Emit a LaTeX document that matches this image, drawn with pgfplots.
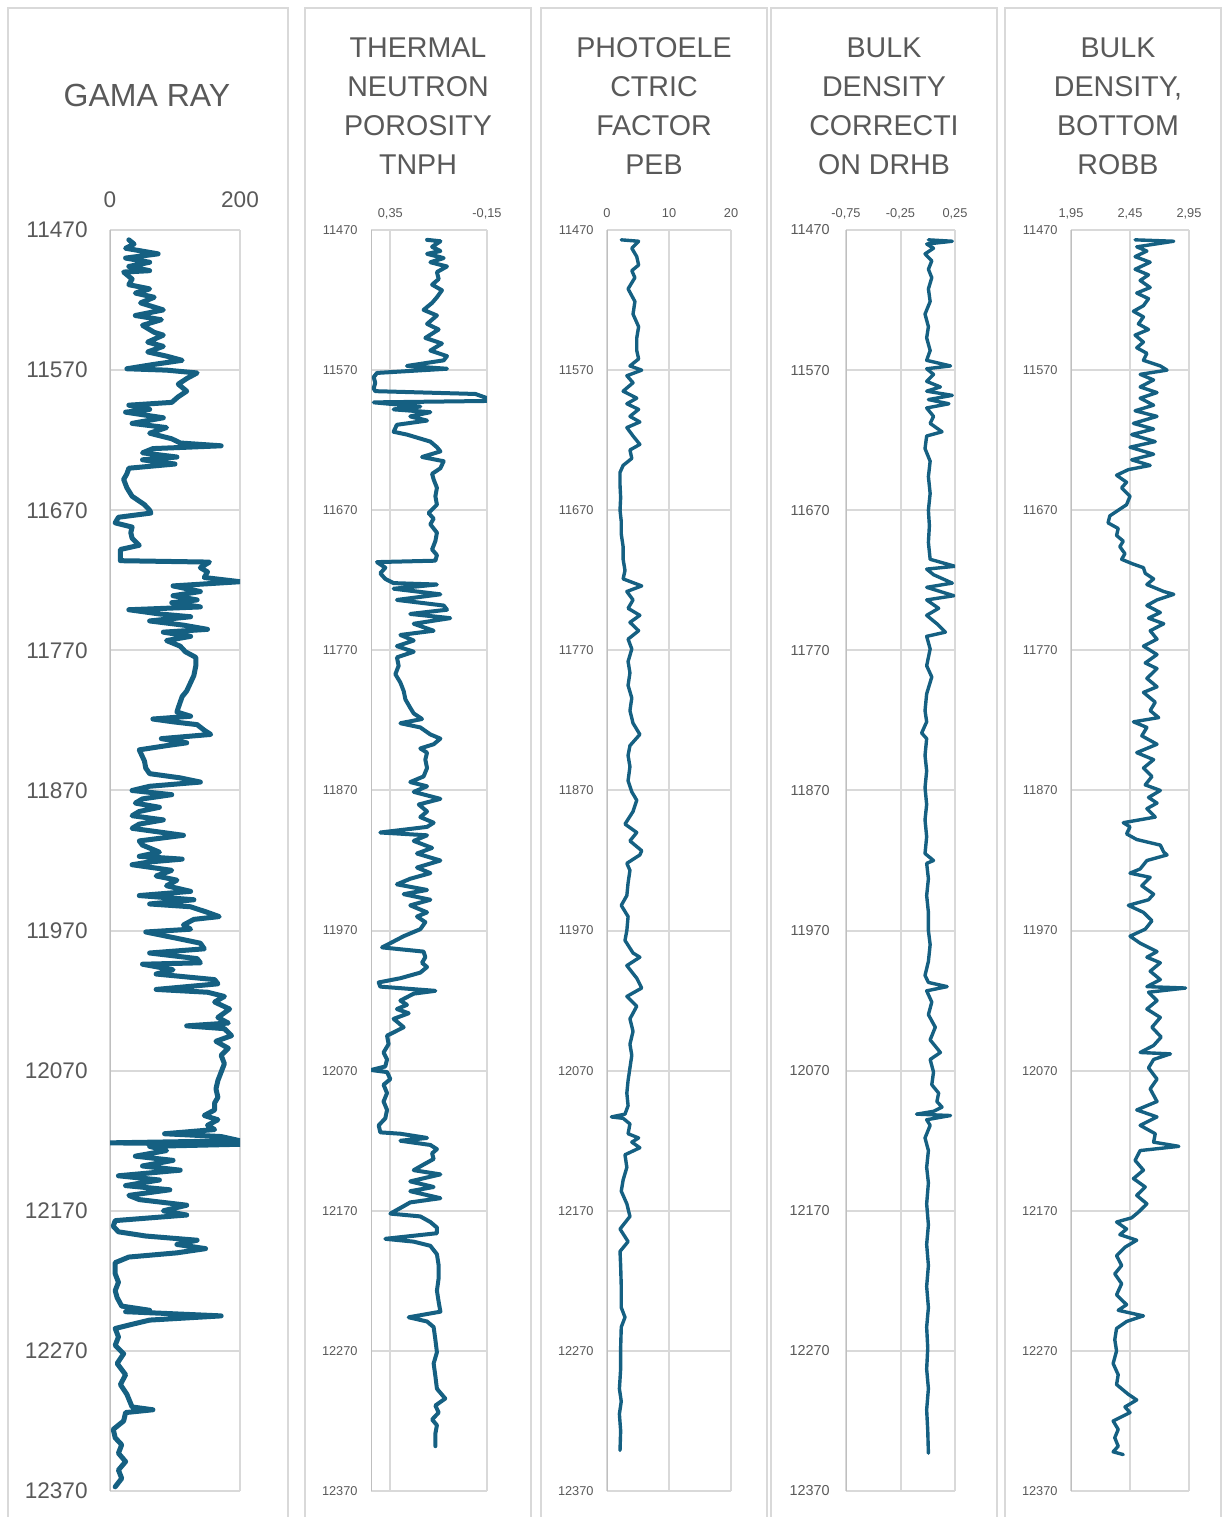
\documentclass[border=0pt]{standalone}
\usepackage{fontspec}
\setmainfont{Liberation Sans}
\usepackage{pgfplots}
\pgfplotsset{compat=1.18}
\definecolor{logblue}{HTML}{156082}
\definecolor{gridgray}{HTML}{D9D9D9}
\definecolor{axgray}{HTML}{BFBFBF}
\definecolor{txtgray}{HTML}{595959}
\pgfplotsset{
 logaxis/.style={
  scale only axis, anchor=center,
  y dir=reverse, ymin=11470, ymax=12370,
  ytick={11470,11570,11670,11770,11870,11970,12070,12170,12270,12370},
  yticklabels={11470,11570,11670,11770,11870,11970,12070,12170,12270,12370},
  scaled y ticks=false, scaled x ticks=false,
  axis line style={draw=none},
  grid=major, major grid style={draw=gridgray, line width=1pt},
  major tick length=0pt,
  xticklabel pos=right,
  ticklabel style={text=txtgray, inner sep=0pt},
  xticklabel style={anchor=base},
 },
 curve/.style={logblue, line join=round, line cap=round, no markers, line width=#1},
}
\begin{document}
\begin{tikzpicture}
\path[use as bounding box] (0,0) rectangle (614.5pt,-758.5pt);
% panel frames
\draw[gridgray, line width=1pt] (4pt,-4pt) rectangle (144pt,-764pt);
\draw[gridgray, line width=1pt] (152.5pt,-4pt) rectangle (265.5pt,-764pt);
\draw[gridgray, line width=1pt] (270.5pt,-4pt) rectangle (383.5pt,-764pt);
\draw[gridgray, line width=1pt] (385.5pt,-4pt) rectangle (498.5pt,-764pt);
\draw[gridgray, line width=1pt] (502.5pt,-4pt) rectangle (610.5pt,-764pt);
% titles
\node[text=txtgray, inner sep=0pt, font=\fontsize{16}{19.5}\selectfont] at (73.5pt,-47.5pt) {GAMA RAY};
\node[text=txtgray, inner sep=0pt, align=center, font=\fontsize{14.3}{19.5}\selectfont] at (209pt,-53.25pt) {THERMAL\\NEUTRON\\POROSITY\\TNPH};
\node[text=txtgray, inner sep=0pt, align=center, font=\fontsize{14.3}{19.5}\selectfont] at (327pt,-53.25pt) {PHOTOELE\\CTRIC\\FACTOR\\PEB};
\node[text=txtgray, inner sep=0pt, align=center, font=\fontsize{14.3}{19.5}\selectfont] at (442pt,-53.25pt) {BULK\\DENSITY\\CORRECTI\\ON DRHB};
\node[text=txtgray, inner sep=0pt, align=center, font=\fontsize{14.3}{19.5}\selectfont] at (559pt,-53.25pt) {BULK\\DENSITY,\\BOTTOM\\ROBB};

% ---------- Panel 1: Gamma ray
\begin{axis}[logaxis, at={(87.5pt,-430.25pt)}, width=65pt, height=630.5pt,
  xmin=0, xmax=200, xtick={0,200}, xticklabels={0,200},
  ticklabel style={font=\fontsize{11.3}{13}\selectfont},
  yticklabel style={xshift=-11pt}, xticklabel style={yshift=11.25pt}]
\draw[axgray, line width=1pt] (axis description cs:0,0) -- (axis description cs:0,1);
\addplot[curve=2.5pt] table {
29 11477
37 11480
24 11483
74 11487
24 11490
61 11493
29 11496
61 11499
21 11500
34 11505
29 11509
61 11512
39 11515
68 11518
47 11522
82 11527
39 11531
79 11534
50 11538
68 11543
82 11545
58 11550
82 11553
58 11557
87 11560
111 11563
66 11566
26 11569
87 11570
134 11572
118 11576
105 11580
118 11585
105 11589
95 11593
29 11595
61 11598
24 11600
82 11604
34 11608
87 11611
61 11615
95 11619
108 11622
171 11624
66 11626
50 11629
103 11632
50 11634
100 11637
29 11640
26 11644
21 11648
26 11654
34 11660
53 11666
61 11670
63 11672
13 11675
8 11679
34 11682
32 11686
34 11690
45 11695
16 11698
16 11706
153 11707
139 11711
150 11714
145 11718
200 11721
97 11724
139 11728
97 11731
134 11734
95 11736
139 11739
29 11741
76 11744
124 11746
61 11749
113 11752
150 11755
82 11757
124 11760
87 11763
108 11767
116 11771
132 11775
132 11781
129 11788
124 11793
118 11799
111 11803
108 11807
105 11811
103 11814
124 11817
66 11819
97 11821
134 11823
145 11827
155 11830
79 11833
118 11836
87 11838
45 11841
50 11846
53 11849
55 11854
61 11858
108 11861
139 11864
61 11867
34 11870
95 11873
50 11876
39 11879
76 11882
45 11885
34 11888
82 11891
45 11894
34 11897
113 11902
45 11906
50 11909
76 11914
45 11917
111 11919
61 11921
34 11923
95 11927
71 11931
103 11934
87 11938
124 11942
45 11945
129 11948
61 11951
124 11953
150 11957
168 11960
129 11962
113 11966
124 11969
55 11971
108 11976
139 11979
145 11983
61 11986
134 11990
139 11993
50 11994
97 11998
71 12001
161 12005
166 12008
71 12012
150 12014
176 12017
161 12021
184 12026
166 12032
182 12036
118 12038
176 12040
187 12045
163 12049
182 12054
171 12059
176 12065
171 12071
166 12077
163 12083
166 12089
161 12093
161 12098
145 12102
166 12105
150 12109
161 12112
84 12115
171 12117
200 12120
0 12121.5
200 12122.5
61 12124
87 12127
39 12131
97 12134
50 12138
108 12141
13 12145
76 12148
24 12152
92 12155
29 12159
45 12162
118 12166
82 12170
118 12173
8 12177
5 12181
13 12185
55 12188
134 12191
103 12194
147 12197
103 12200
29 12203
8 12207
8 12215
13 12221
8 12227
11 12232
18 12238
61 12241
24 12242
171 12245
61 12248
34 12251
8 12254
13 12260
8 12266
21 12272
11 12279
24 12287
16 12294
26 12301
34 12310
66 12312
24 12314
21 12320
5 12326
8 12332
18 12337
13 12343
24 12349
13 12355
18 12361
8 12367
};
\end{axis}

% ---------- Panel 2: TNPH
\begin{axis}[logaxis, at={(214.5pt,-430.25pt)}, width=58pt, height=630.5pt,
  x dir=reverse, xmin=-0.15, xmax=0.45, xtick={-0.15,0.35}, xticklabels={{-0,15},{0,35}},
  ticklabel style={font=\fontsize{6.4}{7.5}\selectfont},
  yticklabel style={xshift=-6.5pt}, xticklabel style={yshift=6.5pt}]
\draw[axgray, line width=1pt] (axis description cs:0,0) -- (axis description cs:0,1);
\addplot[curve=2pt] table {
0.160 11477
0.091 11478
0.134 11482
0.091 11485
0.160 11487
0.074 11490
0.143 11493
0.057 11496
0.109 11500
0.100 11505
0.134 11509
0.083 11513
0.109 11518
0.134 11522
0.178 11527
0.109 11531
0.160 11537
0.100 11541
0.169 11547
0.083 11551
0.143 11556
0.057 11560
0.074 11563
0.264 11567
0.057 11569
0.419 11572
0.436 11575
0.428 11579
0.436 11583
0.428 11585
-0.09 11587
-0.15 11590
-0.15 11592
0.436 11593
0.195 11596
0.333 11598
0.143 11600
0.247 11603
0.160 11606
0.316 11609
0.333 11614
0.264 11616
0.143 11621
0.109 11625
0.091 11628
0.186 11632
0.074 11635
0.091 11640
0.134 11644
0.126 11648
0.109 11654
0.117 11660
0.109 11666
0.152 11672
0.126 11676
0.143 11680
0.109 11686
0.117 11692
0.134 11698
0.109 11702
0.117 11706
0.419 11707
0.376 11711
0.402 11715
0.376 11719
0.333 11722
0.109 11723
0.333 11726
0.091 11730
0.316 11734
0.074 11738
0.057 11741
0.247 11744
0.040 11747
0.229 11751
0.126 11756
0.298 11759
0.229 11763
0.316 11767
0.229 11771
0.316 11775
0.307 11781
0.324 11787
0.298 11793
0.281 11799
0.272 11805
0.247 11811
0.229 11815
0.186 11819
0.298 11822
0.195 11825
0.143 11830
0.091 11833
0.126 11837
0.195 11840
0.160 11843
0.169 11848
0.160 11854
0.178 11860
0.247 11864
0.160 11867
0.229 11871
0.091 11876
0.203 11880
0.160 11885
0.195 11889
0.126 11893
0.160 11896
0.402 11900
0.160 11902
0.229 11906
0.134 11911
0.212 11915
0.091 11920
0.212 11925
0.143 11929
0.247 11933
0.316 11937
0.160 11941
0.281 11944
0.143 11948
0.247 11952
0.160 11957
0.212 11960
0.169 11964
0.195 11969
0.281 11974
0.350 11979
0.393 11982
0.178 11985
0.169 11989
0.186 11993
0.160 11996
0.195 12000
0.298 12004
0.410 12007
0.402 12010
0.117 12013
0.229 12015
0.298 12020
0.264 12023
0.316 12026
0.255 12029
0.333 12033
0.281 12039
0.367 12045
0.359 12051
0.385 12057
0.367 12062
0.376 12067
0.45 12069.5
0.367 12071
0.350 12076
0.385 12080
0.367 12086
0.385 12092
0.367 12098
0.376 12104
0.410 12109
0.402 12114
0.298 12115
0.160 12118
0.298 12120
0.143 12123
0.109 12126
0.134 12129
0.126 12133
0.178 12137
0.229 12141
0.091 12144
0.247 12149
0.126 12153
0.247 12156
0.091 12161
0.247 12164
0.298 12168
0.350 12172
0.195 12174
0.143 12178
0.109 12182
0.109 12186
0.376 12190
0.229 12192
0.143 12195
0.109 12201
0.100 12209
0.100 12218
0.109 12227
0.100 12235
0.091 12242
0.255 12246
0.160 12249
0.126 12253
0.117 12262
0.109 12271
0.126 12279
0.117 12288
0.109 12297
0.066 12304
0.117 12309
0.100 12314
0.134 12319
0.109 12323
0.117 12329
0.117 12338
};
\end{axis}

% ---------- Panel 3: PEB
\begin{axis}[logaxis, at={(334.5pt,-430.25pt)}, width=62pt, height=630.5pt,
  xmin=0, xmax=20, xtick={0,10,20}, xticklabels={0,10,20},
  ticklabel style={font=\fontsize{6.4}{7.5}\selectfont},
  yticklabel style={xshift=-6.5pt}, xticklabel style={yshift=6.5pt}]
\draw[axgray, line width=1pt] (axis description cs:0,0) -- (axis description cs:0,1);
\addplot[curve=1.7pt] table {
2.3 11477
5.1 11478
4.0 11483
4.8 11489
5.1 11495
4.0 11499
4.5 11504
3.4 11512
4.5 11521
4.2 11530
5.1 11539
4.8 11547
4.8 11556
5.1 11562
3.7 11567
5.6 11570
3.2 11574
4.2 11579
2.6 11585
4.8 11590
3.2 11594
5.1 11598
3.7 11603
5.3 11607
3.2 11611
4.2 11617
5.3 11623
3.7 11627
4.0 11633
2.6 11638
2.1 11643
2.1 11652
2.2 11661
2.1 11670
2.3 11678
2.3 11687
2.6 11696
2.6 11705
2.9 11713
2.6 11719
5.6 11724
3.2 11728
4.2 11734
3.4 11740
5.3 11745
3.7 11750
5.1 11756
3.4 11762
4.0 11769
3.4 11778
3.7 11786
3.4 11795
4.0 11804
3.7 11813
4.2 11822
5.3 11830
3.7 11838
3.4 11845
3.7 11853
3.4 11863
4.0 11871
4.8 11877
4.2 11885
2.9 11894
4.8 11900
3.7 11906
5.6 11913
5.3 11916
3.2 11922
3.7 11927
3.4 11936
3.2 11945
2.3 11952
3.4 11960
3.2 11970
2.9 11977
4.2 11986
5.3 11989
3.2 11995
4.8 12004
5.6 12011
3.2 12017
4.8 12024
3.7 12033
4.2 12042
3.7 12051
4.0 12059
3.7 12068
3.4 12077
3.2 12086
3.4 12095
2.9 12101
0.7 12103
2.6 12104
3.7 12108
3.4 12115
5.1 12118
4.0 12121
5.3 12125
2.9 12130
3.2 12139
2.6 12148
2.3 12156
3.2 12165
3.7 12174
2.1 12183
3.4 12192
2.1 12199
2.2 12209
2.3 12224
2.3 12239
2.9 12246
2.3 12253
2.2 12268
2.2 12283
2.0 12297
2.3 12306
2.0 12315
2.2 12327
2.1 12341
};
\end{axis}

% ---------- Panel 4: DRHB
\begin{axis}[logaxis, at={(450.25pt,-430.25pt)}, width=54.5pt, height=630.5pt,
  xmin=-0.75, xmax=0.25, xtick={-0.75,-0.25,0.25}, xticklabels={{-0,75},{-0,25},{0,25}},
  xticklabel style={font=\fontsize{6.4}{7.5}\selectfont, yshift=6.5pt},
  yticklabel style={font=\fontsize{7.2}{8.5}\selectfont, xshift=-8pt}]
\draw[axgray, line width=1pt] (axis description cs:0,0) -- (axis description cs:0,1);
\addplot[curve=1.7pt] table {
0.006 11477
0.225 11478
-0.010 11480
0.053 11483
-0.025 11487
0.037 11492
0.006 11498
0.037 11504
0.006 11512
0.022 11521
-0.025 11530
0.006 11539
-0.010 11547
0.022 11556
-0.010 11563
0.209 11567
-0.010 11569
0.053 11573
-0.010 11578
0.116 11582
-0.010 11585
0.225 11588
0.006 11591
0.194 11594
-0.010 11597
0.053 11603
0.022 11608
0.131 11614
-0.010 11617
-0.025 11626
0.022 11635
0.006 11646
0.022 11658
0.006 11670
0.015 11681
0.006 11693
0.022 11705
0.25 11710
-0.010 11712
0.053 11716
0.225 11722
-0.010 11725
0.24 11731
-0.010 11734
0.100 11740
-0.010 11745
0.084 11751
0.162 11757
-0.010 11760
0.022 11769
-0.010 11781
0.037 11789
-0.010 11801
-0.025 11813
-0.010 11821
-0.056 11829
-0.010 11833
-0.025 11845
-0.010 11856
-0.025 11868
-0.010 11880
-0.025 11891
-0.010 11903
-0.025 11915
0.053 11920
-0.010 11922
0.006 11933
-0.010 11945
0.006 11957
0.006 11970
0.022 11980
0.006 11992
-0.025 12002
0.006 12007
0.178 12010
-0.010 12013
0.037 12021
0.006 12030
0.069 12039
0.022 12048
0.116 12057
0.022 12062
0.053 12071
0.037 12080
0.100 12086
0.084 12092
0.131 12096
0.053 12099
-0.103 12101
0.209 12102
-0.010 12105
0.022 12109
-0.025 12118
0.006 12127
-0.010 12139
0.006 12150
-0.010 12165
0.006 12180
-0.010 12194
0.006 12209
-0.010 12224
0.006 12239
-0.010 12253
0.000 12268
-0.010 12283
0.006 12297
-0.010 12312
0.000 12327
0.006 12343
};
\end{axis}

% ---------- Panel 5: ROBB
\begin{axis}[logaxis, at={(565pt,-430.25pt)}, width=59pt, height=630.5pt,
  xmin=1.95, xmax=2.95, xtick={1.95,2.45,2.95}, xticklabels={{1,95},{2,45},{2,95}},
  ticklabel style={font=\fontsize{6.4}{7.5}\selectfont},
  yticklabel style={xshift=-6.5pt}, xticklabel style={yshift=6.5pt}]
\draw[axgray, line width=1pt] (axis description cs:0,0) -- (axis description cs:0,1);
\addplot[curve=1.7pt] table {
2.493 11477
2.821 11478
2.507 11482
2.593 11485
2.493 11489
2.621 11493
2.493 11498
2.607 11502
2.536 11506
2.621 11511
2.507 11515
2.607 11519
2.564 11524
2.479 11528
2.564 11532
2.521 11537
2.607 11541
2.493 11545
2.564 11550
2.507 11554
2.593 11558
2.564 11563
2.707 11567
2.764 11570
2.536 11573
2.650 11577
2.536 11582
2.679 11586
2.536 11590
2.650 11595
2.493 11599
2.679 11603
2.479 11608
2.650 11612
2.464 11616
2.664 11621
2.450 11625
2.650 11630
2.464 11634
2.621 11638
2.436 11641
2.336 11645
2.421 11650
2.379 11654
2.450 11660
2.421 11666
2.350 11670
2.279 11674
2.264 11679
2.350 11683
2.336 11688
2.393 11692
2.364 11696
2.407 11701
2.379 11705
2.464 11708
2.564 11711
2.579 11715
2.650 11719
2.593 11723
2.736 11728
2.821 11730
2.679 11734
2.593 11738
2.707 11743
2.607 11747
2.736 11751
2.621 11756
2.679 11762
2.564 11767
2.679 11773
2.579 11779
2.679 11783
2.593 11790
2.679 11796
2.564 11800
2.664 11807
2.621 11813
2.693 11818
2.479 11821
2.593 11825
2.550 11831
2.679 11837
2.507 11843
2.650 11848
2.564 11854
2.636 11860
2.579 11866
2.707 11870
2.607 11875
2.679 11879
2.593 11883
2.664 11889
2.393 11893
2.450 11896
2.421 11901
2.507 11905
2.707 11909
2.736 11914
2.764 11916
2.593 11920
2.536 11926
2.450 11929
2.621 11932
2.550 11938
2.650 11944
2.607 11948
2.436 11952
2.564 11957
2.636 11963
2.579 11969
2.450 11974
2.536 11979
2.679 11985
2.593 11989
2.707 11993
2.621 11999
2.707 12005
2.593 12010
2.921 12011
2.607 12014
2.679 12020
2.593 12026
2.707 12032
2.636 12039
2.714 12046
2.650 12052
2.536 12057
2.793 12058
2.650 12062
2.607 12068
2.679 12076
2.621 12083
2.679 12092
2.507 12098
2.679 12103
2.536 12109
2.664 12115
2.650 12121
2.864 12124
2.536 12127
2.493 12134
2.564 12141
2.479 12147
2.579 12153
2.507 12159
2.593 12165
2.521 12171
2.464 12175
2.336 12178
2.421 12183
2.364 12187
2.507 12191
2.407 12196
2.336 12202
2.379 12209
2.321 12215
2.379 12222
2.336 12230
2.421 12237
2.350 12241
2.564 12245
2.421 12249
2.336 12254
2.321 12262
2.336 12270
2.307 12279
2.350 12287
2.336 12294
2.436 12301
2.507 12305
2.407 12310
2.450 12314
2.307 12320
2.350 12326
2.321 12332
2.350 12338
2.307 12342
2.393 12344
};
\end{axis}
\end{tikzpicture}
\end{document}
